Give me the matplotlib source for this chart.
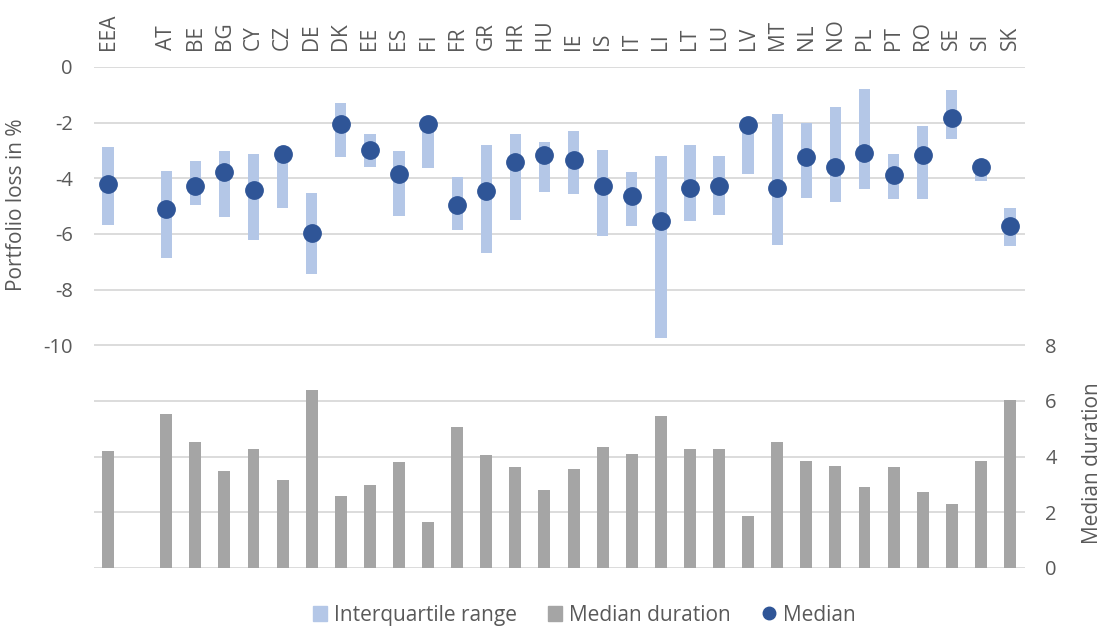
import numpy as np
import matplotlib.pyplot as plt
from matplotlib.patches import Patch
from matplotlib.lines import Line2D

plt.rcParams['font.family'] = ['Open Sans', 'DejaVu Sans']

# countries (blank slot after EEA)
countries = ['EEA', '', 'AT', 'BE', 'BG', 'CY', 'CZ', 'DE', 'DK', 'EE', 'ES', 'FI', 'FR', 'GR',
             'HR', 'HU', 'IE', 'IS', 'IT', 'LI', 'LT', 'LU', 'LV', 'MT', 'NL', 'NO', 'PL',
             'PT', 'RO', 'SE', 'SI', 'SK']

# portfolio loss in % : interquartile range and median
iqr_top = [-2.87, np.nan, -3.74, -3.39, -3.02, -3.11, -2.95, -4.51, -1.28, -2.39, -3.03, -1.95,
           -3.97, -2.81, -2.39, -2.70, -2.31, -2.97, -3.79, -3.21, -2.80, -3.21, -2.00, -1.70,
           -2.01, -1.45, -0.80, -3.13, -2.13, -0.81, -3.35, -5.08]
iqr_bottom = [-5.68, np.nan, -6.86, -4.97, -5.39, -6.22, -5.05, -7.45, -3.22, -3.58, -5.34, -3.64,
              -5.86, -6.68, -5.48, -4.50, -4.57, -6.08, -5.70, -9.72, -5.52, -5.33, -3.84, -6.39,
              -4.69, -4.85, -4.40, -4.76, -4.75, -2.60, -4.08, -6.43]
median = [-4.22, np.nan, -5.11, -4.28, -3.77, -4.42, -3.13, -5.95, -2.06, -3.00, -3.86, -2.06,
          -4.97, -4.45, -3.43, -3.18, -3.33, -4.26, -4.63, -5.54, -4.36, -4.27, -2.10, -4.33,
          -3.24, -3.59, -3.09, -3.88, -3.18, -1.83, -3.61, -5.71]

# median duration (right axis)
duration = [4.22, np.nan, 5.55, 4.53, 3.49, 4.28, 3.17, 6.39, 2.57, 2.97, 3.80, 1.65, 5.08, 4.06,
            3.62, 2.79, 3.55, 4.34, 4.10, 5.46, 4.28, 4.26, 1.88, 4.52, 3.86, 3.67, 2.90, 3.64,
            2.72, 2.30, 3.86, 6.04]

light_blue = '#B4C7E7'
dark_blue = '#2F5597'
grey = '#A5A5A5'
txt = '#595959'

x = np.arange(len(countries))
top = np.array(iqr_top)
bot = np.array(iqr_bottom)

fig = plt.figure(figsize=(11.04, 6.29), dpi=100)
ax = fig.add_axes([0.0847, 0.097, 0.8433, 0.7965])
ax2 = ax.twinx()

ax.bar(x, top - bot, bottom=bot, width=0.39, color=light_blue, zorder=2)
ax.plot(x, median, 'o', ms=12.5, color=dark_blue, zorder=3)
ax2.bar(x, duration, width=0.41, color=grey, zorder=2)

ax.set_xlim(-0.5, len(countries) - 0.5)
ax.set_ylim(-18, 0)
ax2.set_ylim(0, 18)

yt = np.arange(-18, 1, 2)
ax.set_yticks(yt)
ax.set_yticklabels([str(v) if v >= -10 else '' for v in yt])
ax.grid(axis='y', color='#D9D9D9', lw=1.3)
ax.set_axisbelow(True)
ax2.set_yticks([0, 2, 4, 6, 8])

ax.xaxis.tick_top()
ax.set_xticks(x)
ax.set_xticklabels(countries, rotation=90)

ax.tick_params(axis='x', length=0, pad=12, labelsize=15, labelcolor=txt)
ax.tick_params(axis='y', length=0, pad=15, labelsize=14.5, labelcolor=txt)
ax2.tick_params(axis='y', length=0, pad=15, labelsize=14.5, labelcolor=txt)

for a in (ax, ax2):
    for s in a.spines.values():
        s.set_visible(False)

ax.set_ylabel('Portfolio loss in %', fontsize=15, color=txt)
ax.yaxis.set_label_coords(-0.071, 0.725)
ax2.set_ylabel('Median duration', fontsize=15, color=txt)
ax2.yaxis.set_label_coords(1.062, 0.21)

handles = [Patch(color=light_blue), Patch(color=grey),
           Line2D([], [], marker='o', ls='', color=dark_blue, ms=9)]
fig.legend(handles, ['Interquartile range', 'Median duration', 'Median'],
           loc='center', bbox_to_anchor=(0.529, 0.022), ncol=3, frameon=False,
           fontsize=15, handlelength=0.7, handleheight=0.7, handletextpad=0.3,
           columnspacing=1.5, labelcolor=txt)

fig.savefig('out.png', dpi=100)
